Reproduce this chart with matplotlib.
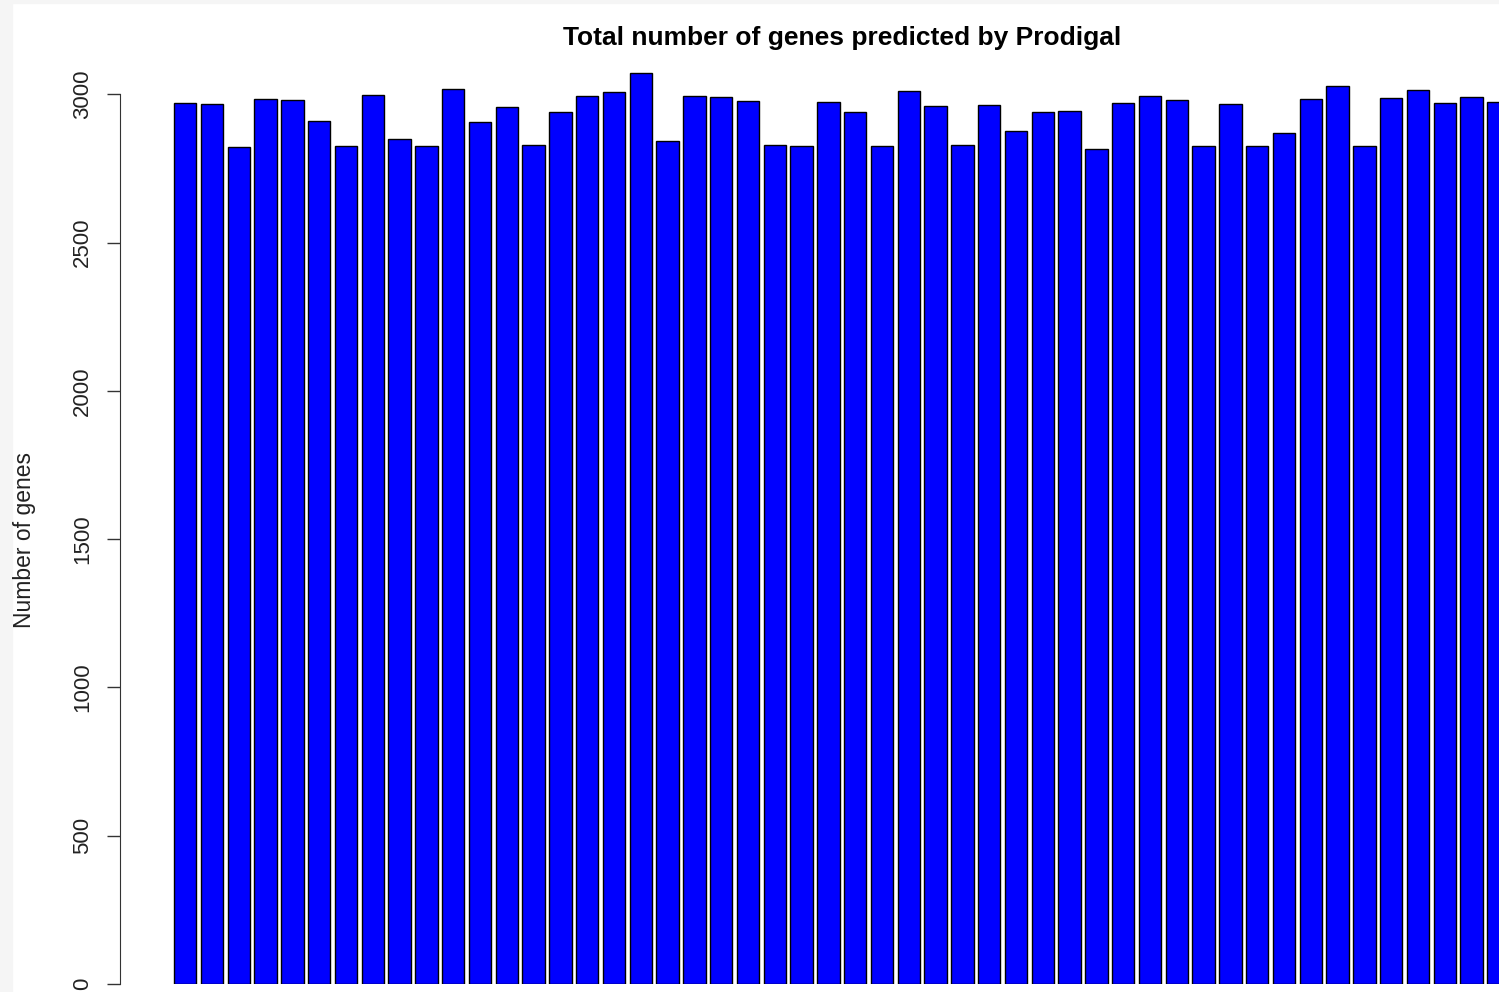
import numpy as np
import matplotlib.pyplot as plt
from matplotlib.patches import Rectangle

# --- DATA ---
genes = [2969, 2968, 2822, 2985, 2981, 2910, 2825, 2997, 2848, 2825,
         3016, 2907, 2958, 2829, 2940, 2995, 3008, 3070, 2841, 2994,
         2990, 2977, 2829, 2825, 2974, 2941, 2827, 3011, 2961, 2829,
         2964, 2875, 2939, 2944, 2816, 2971, 2994, 2979, 2827, 2966,
         2826, 2869, 2984, 3027, 2827, 2987, 3015, 2971, 2992, 2973]
y_ticks = [0, 500, 1000, 1500, 2000, 2500, 3000]

TITLE = "Total number of genes predicted by Prodigal"
YLABEL = "Number of genes"

# --- PLOTTING ---
plt.rcParams['font.family'] = ['Liberation Sans', 'DejaVu Sans']

W, H = 1499, 992
fig = plt.figure(figsize=(W / 100, H / 100), dpi=100)

# light grey strip on the left edge of the screenshot
fig.patches.append(Rectangle((0, 0), 12 / W, 1, transform=fig.transFigure,
                             color='#f5f5f5', zorder=0))
fig.patches.append(Rectangle((0, 1 - 3 / H), 1, 3 / H, transform=fig.transFigure,
                             color='#f5f5f5', zorder=0))

# axes placed in pixel terms: y=0 at 984px, 3100 at ~64.5px
y0_px, ytop_px = 984, 984 - 3100 * 0.2966
ax = fig.add_axes([120 / W, (H - y0_px) / H, 1 - 120 / W, (y0_px - ytop_px) / H])

x = np.arange(len(genes))
ax.bar(x, genes, width=0.833, color='#0000ff', edgecolor='black', linewidth=1.0)

ax.set_xlim(-2.43, 49.02)
ax.set_ylim(0, 3100)

for s in ['top', 'right', 'bottom']:
    ax.spines[s].set_visible(False)
ax.spines['left'].set_bounds(0, 3000)
ax.spines['left'].set_color('#333333')
ax.set_xticks([])
ax.set_yticks(y_ticks)
ax.set_yticklabels([str(v) for v in y_ticks], rotation=90, va='center', fontsize=16)
ax.tick_params(axis='y', length=9.5, width=1.0, pad=10, colors='#333333', labelcolor='#222222')

fig.text(842 / W, 1 - 38 / H, TITLE, ha='center', va='center',
         fontsize=19, fontweight='bold')
fig.text(25 / W, 1 - 540 / H, YLABEL, rotation=90, ha='center', va='center',
         fontsize=16.5, color='#222222')

fig.savefig("out.png", dpi=100)
